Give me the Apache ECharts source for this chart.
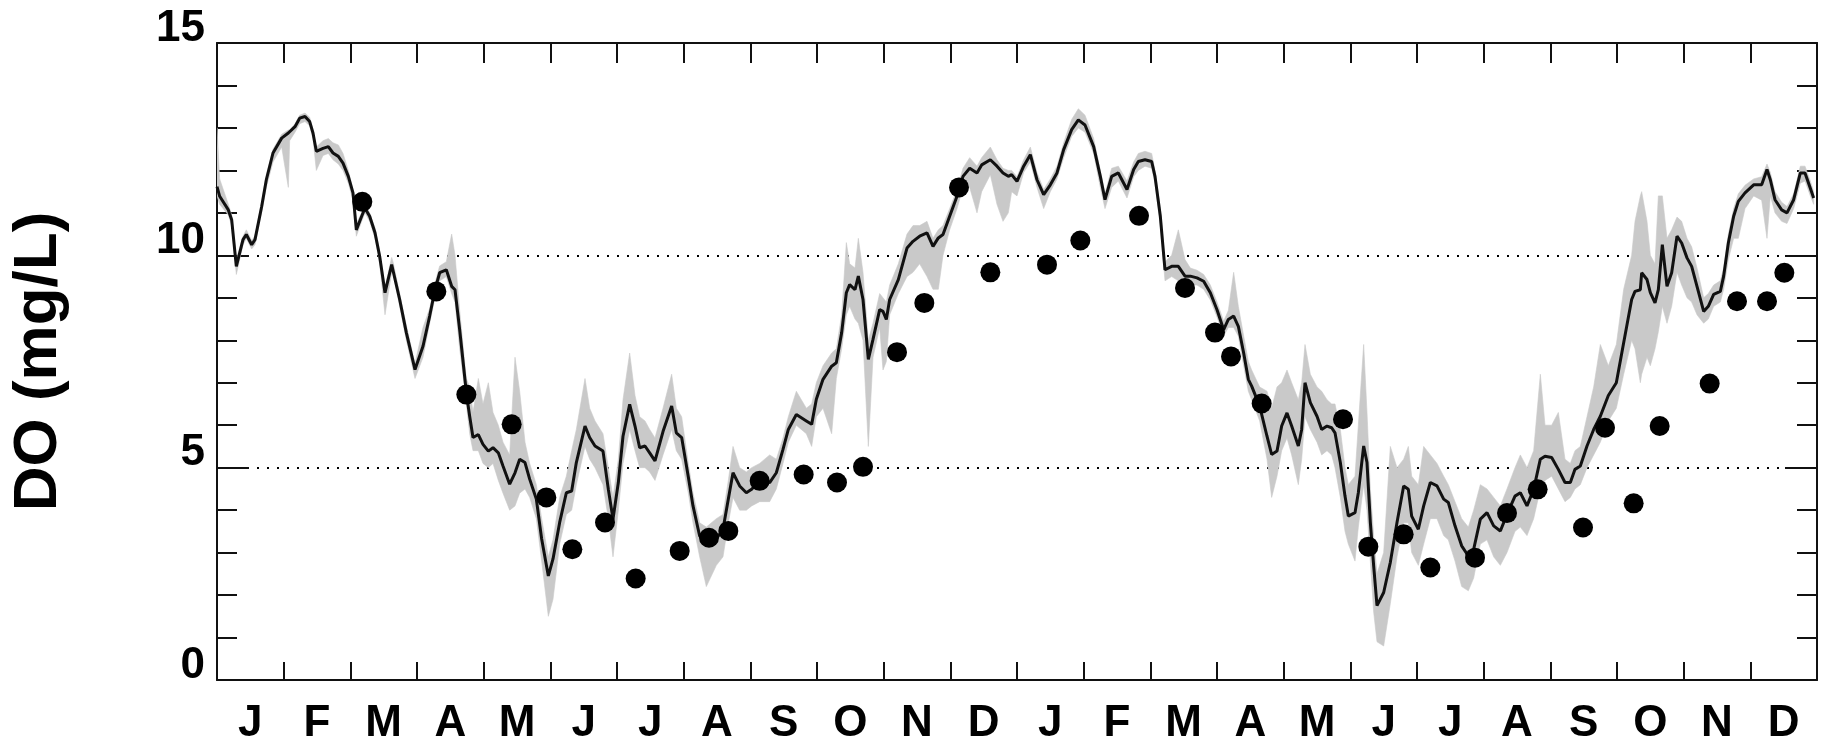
<!DOCTYPE html>
<html>
<head>
<meta charset="utf-8">
<script src="https://cdn.jsdelivr.net/npm/echarts@6/dist/echarts.min.js"></script>
<style>
  html, body { margin: 0; padding: 0; background: #ffffff; }
  #chart { width: 1822px; height: 746px; }
</style>
</head>
<body>
<div id="chart"></div>
<script>
// Month letters along the bottom axis (two years, Jan..Dec twice)
const monthLabels = ['J','F','M','A','M','J','J','A','S','O','N','D',
                     'J','F','M','A','M','J','J','A','S','O','N','D'];

// Model time, in months since the start of the first January
const months = [
  0.00,0.04,0.17,0.22,0.29,0.39,0.44,0.52,0.57,0.67,
  0.74,0.84,0.97,1.07,1.09,1.17,1.24,1.32,1.39,1.44,
  1.49,1.59,1.67,1.74,1.82,1.89,1.97,2.04,2.09,2.17,
  2.22,2.29,2.37,2.44,2.52,2.62,2.64,2.74,2.84,2.97,
  3.09,3.19,3.27,3.34,3.44,3.52,3.57,3.64,3.72,3.74,
  3.79,3.84,3.92,3.99,4.07,4.14,4.22,4.29,4.39,4.47,
  4.54,4.62,4.69,4.79,4.87,4.97,5.04,5.14,5.24,5.32,
  5.39,5.52,5.59,5.67,5.79,5.87,5.94,6.02,6.09,6.19,
  6.27,6.34,6.42,6.49,6.57,6.69,6.82,6.89,6.97,7.07,
  7.14,7.24,7.34,7.49,7.59,7.67,7.74,7.84,7.94,8.02,
  8.14,8.29,8.39,8.49,8.57,8.69,8.84,8.92,8.99,9.09,
  9.22,9.29,9.37,9.44,9.49,9.57,9.62,9.69,9.77,9.84,
  9.94,9.99,10.04,10.09,10.22,10.35,10.44,10.54,10.65,10.74,
  10.82,10.89,10.99,11.10,11.19,11.29,11.40,11.47,11.60,11.70,
  11.79,11.87,11.92,12.00,12.10,12.20,12.30,12.40,12.50,12.60,
  12.70,12.82,12.92,13.02,13.15,13.25,13.32,13.42,13.52,13.65,
  13.75,13.82,13.92,14.02,14.07,14.15,14.22,14.32,14.42,14.52,
  14.60,14.70,14.80,14.90,15.00,15.10,15.17,15.25,15.32,15.40,
  15.47,15.52,15.64,15.75,15.82,15.90,15.97,16.05,16.12,16.22,
  16.27,16.32,16.40,16.50,16.57,16.65,16.72,16.77,16.85,16.92,
  16.97,17.07,17.12,17.20,17.25,17.30,17.35,17.40,17.50,17.60,
  17.70,17.80,17.87,17.92,18.02,18.10,18.20,18.30,18.40,18.47,
  18.57,18.67,18.77,18.85,18.95,19.05,19.15,19.25,19.35,19.47,
  19.55,19.65,19.75,19.85,19.92,20.02,20.12,20.22,20.30,20.37,
  20.45,20.55,20.65,20.75,20.87,20.99,21.10,21.22,21.27,21.35,
  21.37,21.45,21.50,21.57,21.62,21.68,21.75,21.82,21.90,21.97,
  22.05,22.12,22.20,22.30,22.37,22.45,22.55,22.60,22.67,22.75,
  22.82,22.92,23.05,23.17,23.25,23.30,23.37,23.47,23.55,23.65,
  23.75,23.82,23.90,23.95
];

// Modelled dissolved oxygen (mg/L)
const doModel = [
  11.62,11.39,11.07,10.84,9.74,10.37,10.49,10.25,10.37,11.15,
  11.78,12.41,12.76,12.88,12.84,13.03,13.23,13.27,13.15,12.88,
  12.45,12.52,12.56,12.41,12.33,12.17,11.86,11.47,10.60,10.92,
  11.11,10.92,10.53,9.98,9.12,9.78,9.74,8.96,8.18,7.31,
  7.86,8.57,9.19,9.59,9.66,9.27,9.19,8.25,7.07,6.76,
  6.21,5.71,5.78,5.55,5.39,5.47,5.35,5.04,4.61,4.88,
  5.20,5.12,4.73,4.26,3.32,2.45,2.85,3.71,4.41,4.45,
  5.12,5.98,5.71,5.51,5.39,4.49,3.79,4.65,5.74,6.49,
  5.98,5.47,5.51,5.35,5.16,5.85,6.45,5.82,5.71,4.78,
  4.10,3.39,3.24,3.32,3.55,4.26,4.88,4.57,4.41,4.49,
  4.73,4.65,4.88,5.43,5.90,6.25,6.10,6.02,6.61,7.08,
  7.39,7.47,8.18,9.12,9.31,9.19,9.51,8.96,7.55,8.02,
  8.72,8.68,8.49,8.96,9.43,10.17,10.33,10.45,10.53,10.21,
  10.41,10.49,10.92,11.39,11.86,12.05,11.94,12.13,12.25,12.10,
  11.94,11.86,11.90,11.74,12.10,12.37,11.78,11.43,11.66,11.94,
  12.49,12.96,13.19,13.07,12.56,11.86,11.31,11.86,11.94,11.55,
  12.02,12.21,12.25,12.21,11.86,10.92,9.66,9.74,9.74,9.51,
  9.51,9.47,9.39,9.12,8.72,8.25,8.49,8.57,8.33,7.70,
  7.08,6.92,6.45,5.74,5.31,5.39,5.98,6.29,5.98,5.51,
  5.90,7.00,6.53,6.21,5.90,5.98,5.94,5.82,5.12,4.33,
  3.86,3.94,4.41,5.51,5.12,3.71,2.69,1.75,2.06,2.77,
  3.71,4.57,4.49,3.86,3.55,4.10,4.65,4.57,4.26,4.18,
  3.63,3.16,2.92,3.08,3.79,3.94,3.63,3.51,3.90,4.33,
  4.41,4.10,4.49,5.20,5.27,5.24,4.96,4.65,4.65,4.96,
  5.04,5.51,5.90,6.21,6.70,7.00,7.94,8.96,9.15,9.19,
  9.59,9.43,9.12,8.88,9.19,10.25,9.27,9.59,10.45,10.29,
  9.94,9.74,9.27,8.68,8.80,9.08,9.15,9.51,10.29,10.92,
  11.27,11.47,11.66,11.66,12.02,11.78,11.31,11.07,11.00,11.31,
  11.94,11.94,11.58,11.35
];

// Lower edge of the model envelope (mg/L)
const doLow = [
  11.40,11.20,10.95,10.70,9.55,10.25,10.40,10.15,10.25,11.00,
  11.60,12.20,12.55,11.60,12.70,12.90,13.10,13.15,13.05,12.75,
  12.00,12.35,12.40,12.25,12.15,12.00,11.70,11.30,10.45,10.80,
  11.00,10.80,10.40,9.80,8.60,9.60,9.60,8.80,8.00,7.10,
  7.60,8.40,9.00,9.40,9.50,9.10,8.90,7.80,6.80,6.50,
  5.80,5.40,5.40,5.10,5.00,5.10,4.70,4.40,4.00,4.10,
  4.40,4.50,4.30,3.80,2.80,1.50,1.90,3.20,3.90,4.00,
  4.60,5.50,5.20,5.00,4.60,3.80,2.90,4.00,5.10,5.90,
  5.40,5.00,5.00,4.90,4.70,5.30,5.90,5.40,5.20,4.40,
  3.70,2.90,2.20,2.70,2.90,3.70,4.30,4.00,4.00,4.10,
  4.20,4.20,4.50,5.10,5.60,6.00,5.80,5.50,6.20,6.40,
  5.80,7.10,7.80,8.60,8.80,8.50,8.40,8.00,5.50,7.60,
  8.30,7.30,7.50,8.60,9.10,9.50,9.60,9.80,9.50,9.20,
  9.20,10.00,10.60,11.10,11.60,11.60,11.00,11.50,11.90,11.20,
  10.80,11.00,11.50,11.40,11.95,12.20,11.60,11.10,11.50,11.80,
  12.30,12.80,13.00,12.90,12.40,11.60,11.10,11.60,11.75,11.35,
  11.85,12.00,12.10,12.05,11.70,10.70,9.40,9.50,9.40,9.30,
  9.30,9.30,9.20,8.95,8.55,8.10,8.30,8.30,8.10,7.40,
  6.80,6.60,6.10,5.20,4.30,4.80,5.40,5.70,5.30,4.60,
  5.20,6.20,5.90,5.60,5.30,5.40,5.30,5.00,4.30,3.50,
  3.20,2.80,3.60,4.60,4.00,2.80,1.60,0.90,0.80,1.80,
  2.90,3.70,3.70,3.00,2.70,3.20,3.80,3.80,3.40,3.30,
  2.80,2.20,2.10,2.40,3.20,3.30,2.90,2.70,3.00,3.50,
  3.60,3.40,3.80,4.50,4.70,4.80,4.50,4.20,4.30,4.50,
  4.60,5.00,5.30,5.60,6.10,6.40,7.20,8.00,7.80,7.00,
  7.20,7.60,7.40,7.80,8.20,8.80,8.40,8.80,9.60,9.30,
  9.00,8.90,8.60,8.40,8.50,8.80,8.90,9.20,9.90,10.40,
  10.40,11.10,11.40,11.30,10.40,11.40,11.00,10.80,10.75,11.10,
  11.70,11.75,11.40,11.20
];

// Upper edge of the model envelope (mg/L)
const doHigh = [
  13.00,11.80,11.20,10.95,9.90,10.45,10.60,10.35,10.45,11.25,
  11.90,12.50,12.85,12.95,12.95,13.10,13.30,13.35,13.25,12.95,
  12.55,12.70,12.75,12.65,12.60,12.40,12.00,11.55,10.75,11.00,
  11.20,11.00,10.65,10.10,9.25,9.95,9.85,9.10,8.35,7.45,
  8.30,8.75,9.35,9.75,9.85,10.50,10.00,8.70,7.40,7.10,
  6.90,6.30,7.10,6.50,7.00,6.30,6.00,5.60,5.30,7.60,
  6.80,5.60,5.10,4.60,3.80,2.90,3.30,4.30,4.80,5.40,
  5.90,7.10,6.40,6.10,5.80,5.00,4.30,5.20,6.60,7.70,
  6.70,6.20,6.10,5.90,5.70,6.40,7.20,6.40,6.20,5.10,
  4.40,3.70,3.60,3.80,3.90,4.70,5.50,5.00,4.90,5.00,
  5.10,5.30,5.20,5.70,6.20,6.80,6.40,6.50,7.00,7.40,
  7.70,7.80,8.60,10.30,9.80,9.70,10.40,9.60,8.00,8.40,
  9.10,9.00,8.90,9.30,9.80,10.50,10.70,10.70,10.80,10.40,
  10.60,10.70,11.10,11.55,12.05,12.30,12.10,12.30,12.55,12.25,
  12.05,12.00,12.00,11.85,12.25,12.55,11.95,11.55,11.80,12.10,
  12.65,13.20,13.45,13.30,12.75,12.00,11.45,12.05,12.10,11.75,
  12.20,12.40,12.45,12.40,12.00,11.10,9.85,10.00,10.60,9.90,
  9.70,9.65,9.55,9.30,8.90,8.45,8.70,9.60,8.80,8.10,
  7.50,7.30,6.90,6.80,6.40,6.90,7.00,7.30,7.00,6.60,
  7.00,7.90,7.20,6.90,6.80,6.60,6.50,6.50,5.90,5.00,
  4.60,4.80,6.00,7.90,6.30,4.50,3.40,2.50,3.00,5.50,
  5.00,5.20,5.50,4.80,4.60,5.50,5.30,5.10,4.80,4.60,
  4.20,3.80,3.60,4.00,4.60,4.50,4.30,4.10,4.50,5.00,
  5.30,5.00,5.40,7.20,6.00,6.00,6.30,5.20,5.10,5.40,
  5.50,6.20,6.90,7.90,7.40,7.90,9.20,10.00,10.80,11.40,
  11.50,10.80,10.00,9.80,11.40,11.40,10.40,10.60,10.90,10.80,
  10.40,10.20,9.70,9.00,9.10,9.30,9.40,9.70,10.50,11.10,
  11.45,11.65,11.80,11.85,12.15,11.95,11.50,11.25,11.15,11.45,
  12.10,12.10,11.75,11.50
];

// Field samples: time (months) and measured DO (mg/L)
const sampleMonths = [
  2.18,3.29,3.74,4.42,4.94,5.33,5.82,6.28,6.94,7.38,
  7.67,8.14,8.80,9.30,9.69,10.20,10.61,11.13,11.60,12.45,
  12.95,13.83,14.52,14.97,15.21,15.67,16.89,17.27,17.80,18.20,
  18.87,19.35,19.81,20.49,20.82,21.25,21.64,22.39,22.80,23.25,
  23.51
];
const doObserved = [
  11.26,9.15,6.72,6.02,4.30,3.08,3.71,2.39,3.04,3.35,
  3.51,4.69,4.84,4.65,5.02,7.72,8.88,11.60,9.60,9.78,
  10.35,10.93,9.23,8.18,7.62,6.51,6.14,3.14,3.43,2.65,
  2.88,3.93,4.49,3.59,5.94,4.16,5.98,6.98,8.92,8.92,
  9.59
];

const FONT = '"Liberation Sans", Arial, Helvetica, sans-serif';
const INK = '#111111';

const lineData = months.map((m, i) => [m, doModel[i]]);
const envelopeData = months.map((m, i) => [m, doLow[i], doHigh[i]]);
const sampleData = sampleMonths.map((m, i) => [m, doObserved[i]]);

// Shaded model envelope: one polygon along the upper edge and back along the lower edge
function renderEnvelope(params, api) {
  if (params.dataIndex !== 0) return null;
  const upper = [];
  const lower = [];
  for (let i = 0; i < envelopeData.length; i++) {
    const row = envelopeData[i];
    upper.push(api.coord([row[0], row[2]]));
    lower.push(api.coord([row[0], row[1]]));
  }
  const points = upper.concat(lower.reverse());
  return {
    type: 'polygon',
    shape: { points: points },
    style: { fill: '#c9c9c9', stroke: '#c9c9c9', lineWidth: 0.6 },
    clipPath: {
      type: 'rect',
      shape: { x: params.coordSys.x, y: params.coordSys.y, width: params.coordSys.width, height: params.coordSys.height }
    }
  };
}

const frameLine = { show: true, onZero: false, lineStyle: { color: INK, width: 2 } };

const chart = echarts.init(document.getElementById('chart'), null, { renderer: 'canvas' });

chart.setOption({
  animation: false,
  backgroundColor: '#ffffff',
  grid: { left: 217, top: 43, width: 1600, height: 638 },
  xAxis: [
    {
      type: 'category', data: monthLabels, position: 'bottom', boundaryGap: true,
      axisLine: frameLine,
      axisTick: { show: true, inside: true, length: 18, interval: 0, lineStyle: { color: INK, width: 2 } },
      axisLabel: { interval: 0, fontSize: 44, fontWeight: 'bold', fontFamily: FONT, color: '#000', margin: 22 },
      splitLine: { show: false }
    },
    {
      type: 'category', data: monthLabels, position: 'top', boundaryGap: true,
      axisLine: frameLine,
      axisTick: { show: true, inside: true, length: 20, interval: 0, lineStyle: { color: INK, width: 2 } },
      axisLabel: { show: false },
      splitLine: { show: false }
    },
    { type: 'value', min: 0, max: 24, show: false }
  ],
  yAxis: [
    {
      type: 'value', min: 0, max: 15, interval: 5, position: 'left',
      name: 'DO (mg/L)', nameLocation: 'middle', nameRotate: 90, nameGap: 147,
      nameTextStyle: { fontSize: 62, fontWeight: 'bold', fontFamily: FONT, color: '#000' },
      axisLine: frameLine,
      axisTick: { show: true, inside: true, length: 32, lineStyle: { color: INK, width: 2 } },
      minorTick: { show: true, splitNumber: 5, length: 20, lineStyle: { color: INK, width: 2 } },
      axisLabel: {
        fontSize: 44, fontWeight: 'bold', fontFamily: FONT, color: '#000', margin: 12,
        verticalAlign: 'bottom', lineHeight: 29
      },
      splitLine: { show: true, lineStyle: { color: '#000', width: 2.2, type: [2, 8] } },
      minorSplitLine: { show: false }
    },
    {
      type: 'value', min: 0, max: 15, interval: 5, position: 'right',
      axisLine: frameLine,
      axisTick: { show: true, inside: true, length: 32, lineStyle: { color: INK, width: 2 } },
      minorTick: { show: true, splitNumber: 5, length: 20, lineStyle: { color: INK, width: 2 } },
      axisLabel: { show: false },
      splitLine: { show: false }
    }
  ],
  series: [
    {
      name: 'envelope', type: 'custom', xAxisIndex: 2, yAxisIndex: 0,
      data: envelopeData, renderItem: renderEnvelope, silent: true, z: 1,
      encode: { x: 0, y: [1, 2] }
    },
    {
      name: 'model', type: 'line', xAxisIndex: 2, yAxisIndex: 0,
      data: lineData, showSymbol: false, smooth: false,
      lineStyle: { color: INK, width: 3 }, z: 3
    },
    {
      name: 'observed', type: 'scatter', xAxisIndex: 2, yAxisIndex: 0,
      data: sampleData, symbol: 'circle', symbolSize: 20,
      itemStyle: { color: '#000', opacity: 1 }, z: 4
    }
  ]
});
</script>
</body>
</html>
